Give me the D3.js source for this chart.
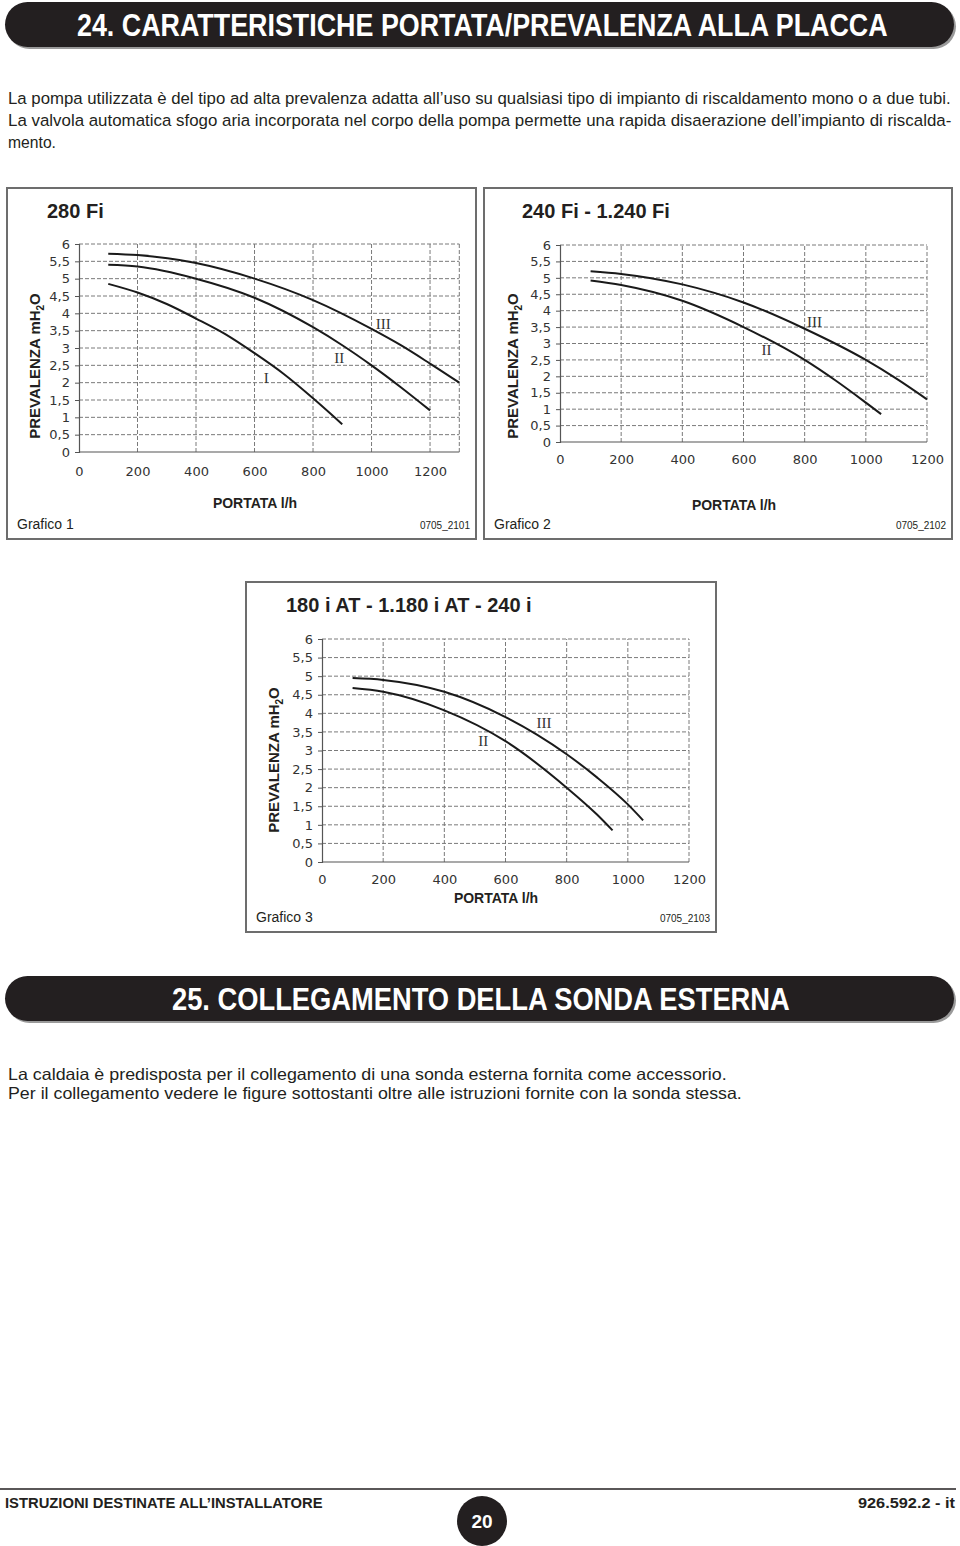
<!DOCTYPE html>
<html><head><meta charset="utf-8">
<script src="https://cdn.jsdelivr.net/npm/d3@7"></script>
<style>
html,body{margin:0;padding:0;background:#fff;}
svg{display:block;}
</style></head>
<body>
<svg id="page" width="960" height="1546"></svg>
<script>
// ---------- DATA ----------
const xTicks = [0, 200, 400, 600, 800, 1000, 1200];
const yTicks = [0, 0.5, 1, 1.5, 2, 2.5, 3, 3.5, 4, 4.5, 5, 5.5, 6];
const yTickLabels = ["0","0,5","1","1,5","2","2,5","3","3,5","4","4,5","5","5,5","6"];

// Grafico 1 (280 Fi)
const g1_I_flow   = [100, 200, 300, 400, 500, 600, 700, 800, 900];
const g1_I_head   = [4.85, 4.6, 4.27, 3.85, 3.4, 2.85, 2.25, 1.55, 0.8];
const g1_II_flow  = [100, 200, 400, 600, 800, 900, 1000, 1100, 1200];
const g1_II_head  = [5.4, 5.35, 5.0, 4.45, 3.6, 3.08, 2.5, 1.87, 1.2];
const g1_III_flow = [100, 200, 400, 600, 800, 1000, 1100, 1200, 1300];
const g1_III_head = [5.72, 5.68, 5.45, 5.0, 4.38, 3.55, 3.08, 2.55, 2.0];

// Grafico 2 (240 Fi - 1.240 Fi)
const g2_II_flow  = [100, 200, 400, 600, 800, 900, 1000, 1050];
const g2_II_head  = [4.92, 4.78, 4.3, 3.5, 2.5, 1.88, 1.2, 0.85];
const g2_III_flow = [100, 200, 400, 600, 800, 1000, 1100, 1200];
const g2_III_head = [5.2, 5.12, 4.8, 4.25, 3.45, 2.5, 1.93, 1.3];

// Grafico 3 (180 i AT - 1.180 i AT - 240 i)
const g3_II_flow  = [100, 200, 400, 600, 800, 900, 950];
const g3_II_head  = [4.68, 4.58, 4.08, 3.25, 2.0, 1.27, 0.85];
const g3_III_flow = [100, 200, 400, 600, 800, 900, 1000, 1050];
const g3_III_head = [4.95, 4.9, 4.58, 3.9, 2.9, 2.27, 1.55, 1.12];

const curveLabels1 = ["I", "II", "III"];
const curveLabels23 = ["II", "III"];

// ---------- PAGE ----------
const svg = d3.select("#page");
const sans = "'Liberation Sans',Arial,Helvetica,sans-serif";
const tickFont = "'DejaVu Sans',Verdana,sans-serif";

// draw text at natural size, then squeeze horizontally to a target width
function fitText(parent, x, y, width, text, attrs) {
  const g = parent.append("g");
  const t = g.append("text").attr("x", 0).attr("y", 0).text(text);
  Object.entries(attrs).forEach(([k, v]) => t.attr(k, v));
  const w = t.node().getComputedTextLength();
  const sx = width / w;
  g.attr("transform", `translate(${x},${y}) scale(${sx},1)`);
  return t;
}

function headerBar(y, h, text, x0, x1) {
  svg.append("rect").attr("x", 7).attr("y", y + 2).attr("width", 949).attr("height", h)
    .attr("rx", h / 2).attr("fill", "#9a9a9a");
  svg.append("rect").attr("x", 5).attr("y", y).attr("width", 949).attr("height", h)
    .attr("rx", h / 2).attr("fill", "#231f20");
  fitText(svg, x0, y + h / 2 + 11, x1 - x0, text,
    { fill: "#fff", "font-family": sans, "font-weight": "bold", "font-size": 32 });
}
headerBar(2, 45, "24. CARATTERISTICHE PORTATA/PREVALENZA ALLA PLACCA", 77, 888);
headerBar(976, 45, "25. COLLEGAMENTO DELLA SONDA ESTERNA", 172, 790);

function para(x, y, text, len) {
  fitText(svg, x, y, len, text, { fill: "#231f20", "font-family": sans, "font-size": 16.5 });
}
para(8, 104, "La pompa utilizzata è del tipo ad alta prevalenza adatta all’uso su qualsiasi tipo di impianto di riscaldamento mono o a due tubi.", 944);
para(8, 126, "La valvola automatica sfogo aria incorporata nel corpo della pompa permette una rapida disaerazione dell’impianto di riscalda-", 944);
para(8, 148, "mento.", 48);
para(8, 1080, "La caldaia è predisposta per il collegamento di una sonda esterna fornita come accessorio.", 719);
para(8, 1099, "Per il collegamento vedere le figure sottostanti oltre alle istruzioni fornite con la sonda stessa.", 734);

// footer
svg.append("line").attr("x1", 0).attr("x2", 956).attr("y1", 1489).attr("y2", 1489)
  .attr("stroke", "#231f20").attr("stroke-width", 1.5);
fitText(svg, 5, 1508, 318, "ISTRUZIONI DESTINATE ALL’INSTALLATORE",
  { fill: "#231f20", "font-family": sans, "font-weight": "bold", "font-size": 15 });
fitText(svg, 858, 1508, 97, "926.592.2 - it",
  { fill: "#231f20", "font-family": sans, "font-weight": "bold", "font-size": 15 });
svg.append("ellipse").attr("cx", 482).attr("cy", 1521).attr("rx", 25).attr("ry", 25).attr("fill", "#231f20");
svg.append("text").attr("x", 482).attr("y", 1528).attr("text-anchor", "middle").attr("font-family", sans)
  .attr("font-weight", "bold").attr("font-size", 19).attr("fill", "#fff").text("20");

// ---------- CHARTS ----------
function chart(cfg) {
  const g = svg.append("g");
  g.append("rect").attr("x", cfg.box[0]).attr("y", cfg.box[1])
    .attr("width", cfg.box[2] - cfg.box[0]).attr("height", cfg.box[3] - cfg.box[1])
    .attr("fill", "none").attr("stroke", "#6d6d6d").attr("stroke-width", 2);
  g.append("text").attr("x", cfg.titleX).attr("y", cfg.titleY).attr("font-family", sans)
    .attr("font-weight", "bold").attr("font-size", 20).attr("fill", "#231f20").text(cfg.title);

  const x = d3.scaleLinear().domain([0, cfg.xMax]).range([cfg.x0, cfg.x1]);
  const y = d3.scaleLinear().domain([0, 6]).range([cfg.y0, cfg.y1]);

  const grid = g.append("g").attr("stroke", "#7a7a7a").attr("stroke-width", 1)
    .attr("stroke-dasharray", "4,2");
  yTicks.filter(v => v > 0).forEach(v => grid.append("line")
    .attr("x1", x(0)).attr("x2", x(cfg.xMax)).attr("y1", y(v)).attr("y2", y(v)));
  const vx = xTicks.filter(v => v > 0 && v <= cfg.xMax);
  if (cfg.xMax > 1200) vx.push(cfg.xMax);
  vx.forEach(v => grid.append("line")
    .attr("x1", x(v)).attr("x2", x(v)).attr("y1", y(0)).attr("y2", y(6)));

  const yAxis = d3.axisLeft(y).tickValues(yTicks).tickSize(4).tickPadding(5)
    .tickFormat((d, i) => yTickLabels[i]);
  const xAxis = d3.axisBottom(x).tickValues(xTicks).tickSize(0).tickPadding(cfg.xPad)
    .tickFormat(d3.format("d"));
  const ya = g.append("g").attr("transform", `translate(${x(0)},0)`).call(yAxis);
  const xa = g.append("g").attr("transform", `translate(0,${y(0)})`).call(xAxis);
  [ya, xa].forEach(a => {
    a.select(".domain").attr("stroke", "#555").attr("stroke-width", 1.2);
    a.selectAll(".tick line").attr("stroke", "#555");
    a.selectAll("text").attr("font-family", tickFont).attr("font-size", 13).attr("fill", "#333");
  });
  xa.select(".domain").attr("d", `M${x(0)},0H${x(cfg.xMax)}`);

  const line = d3.line().x(d => x(d[0])).y(d => y(d[1])).curve(d3.curveMonotoneX);
  cfg.series.forEach(s => {
    const pts = s.flow.map((f, i) => [f, s.head[i]]);
    g.append("path").attr("d", line(pts)).attr("fill", "none")
      .attr("stroke", "#1a1a1a").attr("stroke-width", 2);
    g.append("text").attr("x", x(s.lx)).attr("y", y(s.ly)).attr("text-anchor", "middle")
      .attr("font-family", "'Liberation Serif','Times New Roman',serif").attr("font-size", 15)
      .attr("fill", "#333").text(s.label);
  });

  const yt = g.append("text").attr("transform", `translate(${cfg.yTitleX},${cfg.yTitleY}) rotate(-90)`)
    .attr("text-anchor", "middle").attr("font-family", sans).attr("font-weight", "bold")
    .attr("font-size", 15).attr("fill", "#231f20");
  yt.append("tspan").text("PREVALENZA mH");
  yt.append("tspan").attr("font-size", 10).attr("dy", 4).text("2");
  yt.append("tspan").attr("dy", -4).text("O");

  g.append("text").attr("x", cfg.xTitleX).attr("y", cfg.xTitleY).attr("text-anchor", "middle")
    .attr("font-family", sans).attr("font-weight", "bold").attr("font-size", 14)
    .attr("fill", "#231f20").text("PORTATA l/h");
  g.append("text").attr("x", cfg.box[0] + 10).attr("y", cfg.grafY).attr("font-family", sans)
    .attr("font-size", 14).attr("fill", "#231f20").text(cfg.graf);
  g.append("text").attr("x", cfg.box[2] - 6).attr("y", cfg.grafY).attr("text-anchor", "end")
    .attr("font-family", sans).attr("font-size", 10).attr("fill", "#231f20").text(cfg.code);
}

chart({
  box: [7, 188, 476, 539], title: "280 Fi", titleX: 47, titleY: 218,
  xMax: 1300, x0: 79, x1: 459.3, y0: 452, y1: 244, xPad: 15,
  yTitleX: 40, yTitleY: 366, xTitleX: 255, xTitleY: 508,
  graf: "Grafico 1", code: "0705_2101", grafY: 529,
  series: [
    { flow: g1_I_flow, head: g1_I_head, label: curveLabels1[0], lx: 640, ly: 2.0 },
    { flow: g1_II_flow, head: g1_II_head, label: curveLabels1[1], lx: 890, ly: 2.58 },
    { flow: g1_III_flow, head: g1_III_head, label: curveLabels1[2], lx: 1040, ly: 3.55 }
  ]
});

chart({
  box: [484, 188, 952, 539], title: "240 Fi - 1.240 Fi", titleX: 522, titleY: 218,
  xMax: 1200, x0: 560, x1: 927, y0: 442, y1: 245, xPad: 13,
  yTitleX: 518, yTitleY: 366, xTitleX: 734, xTitleY: 510,
  graf: "Grafico 2", code: "0705_2102", grafY: 529,
  series: [
    { flow: g2_II_flow, head: g2_II_head, label: curveLabels23[0], lx: 675, ly: 2.65 },
    { flow: g2_III_flow, head: g2_III_head, label: curveLabels23[1], lx: 832, ly: 3.5 }
  ]
});

chart({
  box: [246, 582, 716, 932], title: "180 i AT - 1.180 i AT - 240 i", titleX: 286, titleY: 612,
  xMax: 1200, x0: 322, x1: 689, y0: 862, y1: 639, xPad: 13,
  yTitleX: 279, yTitleY: 760, xTitleX: 496, xTitleY: 903,
  graf: "Grafico 3", code: "0705_2103", grafY: 922,
  series: [
    { flow: g3_II_flow, head: g3_II_head, label: curveLabels23[0], lx: 527, ly: 3.12 },
    { flow: g3_III_flow, head: g3_III_head, label: curveLabels23[1], lx: 726, ly: 3.6 }
  ]
});
</script>
</body></html>
